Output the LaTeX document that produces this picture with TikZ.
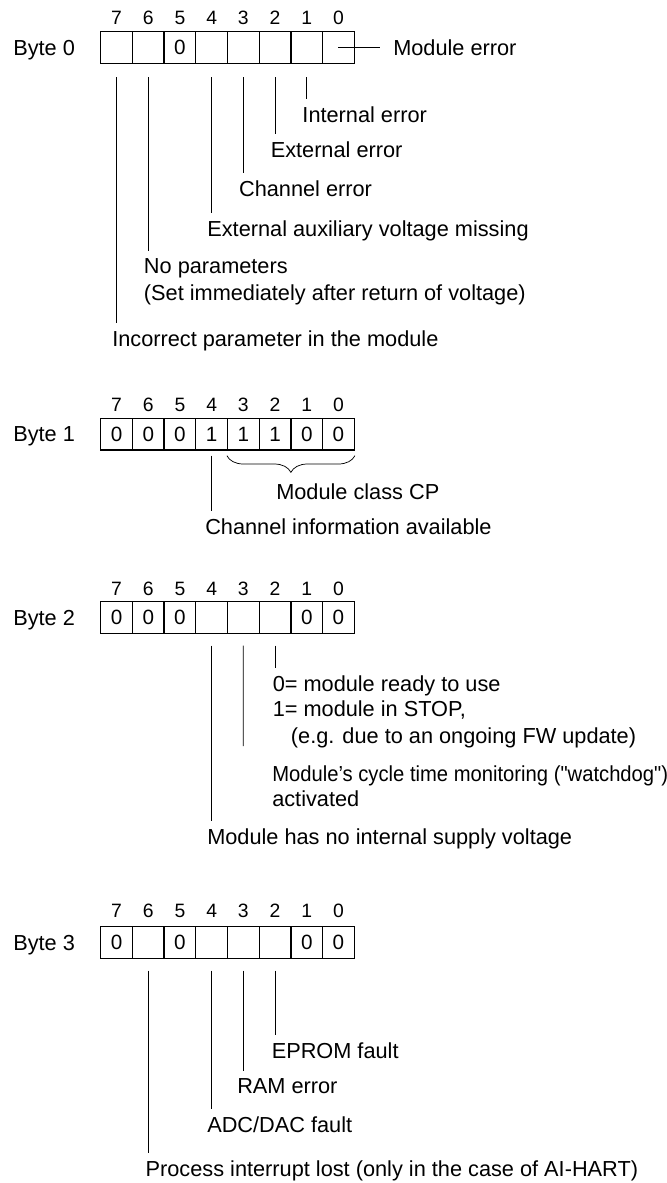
\documentclass[tikz,border=0pt]{standalone}
\usepackage{fontspec}
\setmainfont{Liberation Sans}[Ligatures=TeXOff]
\newfontfamily\narrowsans{Liberation Sans}[Ligatures=TeXOff,FakeStretch=0.93]
\usetikzlibrary{decorations.pathreplacing,calc}

\tikzset{
  bitcell/.style={draw,line width=0.9pt,minimum width=23.8pt,minimum height=23.8pt,inner sep=0pt,font=\fontsize{15.5}{18}\selectfont},
  bitnum/.style={anchor=base,inner sep=0pt,font=\fontsize{14.5}{17}\selectfont},
  bytelbl/.style={anchor=base west,inner sep=0pt,font=\fontsize{16.3}{20}\selectfont},
  lbl/.style={anchor=base west,inner xsep=0pt,inner ysep=5.6pt,font=\fontsize{16.3}{20}\selectfont},
  leader/.style={line width=0.55pt},
}

\begin{document}
\begin{tikzpicture}[x=0.75pt,y=-0.75pt]

        \useasboundingbox (0,0) rectangle (667,1183);

        % byte 0
        \node[bytelbl] (byte0) at (13,55.2) {Byte 0};
        \foreach \b/\v in {7/{},6/{},5/0,4/{},3/{},2/{},1/{},0/{}} {
          \node[bitcell] (c0-\b) at ({116.55+31.7*(7-\b)},47.5) {\v};
          \node[bitnum] (n0-\b) at ({116.55+31.7*(7-\b)},24.8) {\b};
        }

        \begin{scope}[every node/.style={lbl}]
          \node[anchor=west] (lmod) at (393,47.5) {Module error};
          \node (lint)    at (302.2,122.7) {Internal error};
          \node (lext)    at (270.5,157)   {External error};
          \node (lchan)   at (238.8,196)   {Channel error};
          \node (laux)    at (207.1,236.7) {External auxiliary voltage missing};
          \node (lnopar)  at (143.7,273.4) {No parameters};
          \node (lnopar2) at (143.7,300.4) {(Set immediately after return of voltage)};
          \node (linc)    at (112,346)     {Incorrect parameter in the module};
        \end{scope}

        \begin{scope}[leader]
          \draw (c0-0.center) -- ([xshift=-9.75pt]lmod.west);
          \draw ([yshift=-10pt]c0-1.south) -- (c0-1.south |- lint.north);
          \draw ([yshift=-10pt]c0-2.south) -- (c0-2.south |- lext.north);
          \draw ([yshift=-10pt]c0-3.south) -- (c0-3.south |- lchan.north);
          \draw ([yshift=-10pt]c0-4.south) -- (c0-4.south |- laux.north);
          \draw ([yshift=-10pt]c0-6.south) -- (c0-6.south |- lnopar.north);
          \draw ([yshift=-10pt]c0-7.south) -- (c0-7.south |- linc.north);
        \end{scope}

        % byte 1
        \node[bytelbl] (byte1) at (13,441.9) {Byte 1};
        \foreach \b/\v in {7/0,6/0,5/0,4/1,3/1,2/1,1/0,0/0} {
          \node[bitcell] (c1-\b) at ({116.55+31.7*(7-\b)},434.2) {\v};
          \node[bitnum] (n1-\b) at ({116.55+31.7*(7-\b)},411) {\b};
        }

        \begin{scope}[every node/.style={lbl}]
          \node (lclass)  at (276,499.4) {Module class CP};
          \node (lchinfo) at (205,534.4) {Channel information available};
        \end{scope}

        \begin{scope}[leader]
          \draw[decorate,decoration={brace,mirror,amplitude=12.5pt}]
            ([yshift=-3.75pt]c1-3.south west) -- ([yshift=-3.75pt]c1-0.south east);
          \draw ([yshift=-3.75pt]c1-4.south) -- (c1-4.south |- lchinfo.north);
        \end{scope}

        % byte 2
        \node[bytelbl] (byte2) at (13,625.2) {Byte 2};
        \foreach \b/\v in {7/0,6/0,5/0,4/{},3/{},2/{},1/0,0/0} {
          \node[bitcell] (c2-\b) at ({116.55+31.7*(7-\b)},617.5) {\v};
          \node[bitnum] (n2-\b) at ({116.55+31.7*(7-\b)},595) {\b};
        }

        \begin{scope}[every node/.style={lbl}]
          \node (lrdy)   at (272.5,691)   {0= module ready to use};
          \node (lstop)  at (272.5,716)   {1= module in STOP,};
          \node (lstop2) at (290.7,743.7) {(e.g. due to an ongoing FW update)};
          \node[font=\fontsize{16.3}{20}\narrowsans] (lwd) at (272,781.7) {Module’s cycle time monitoring ("watchdog")};
          \node (lwd2)   at (272,806)     {activated};
          \node (lsup)   at (207,844.4)   {Module has no internal supply voltage};
        \end{scope}
        \coordinate (wdend) at (243.35,746);

        \begin{scope}[leader]
          \draw ([yshift=-8.8pt]c2-2.south) -- (c2-2.south |- lrdy.north);
          \draw ([yshift=-8.8pt]c2-3.south) -- (wdend);
          \draw ([yshift=-8.8pt]c2-4.south) -- (c2-4.south |- lsup.north);
        \end{scope}

        % byte 3
        \node[bytelbl] (byte3) at (13,950.2) {Byte 3};
        \foreach \b/\v in {7/0,6/{},5/0,4/{},3/{},2/{},1/0,0/0} {
          \node[bitcell] (c3-\b) at ({116.55+31.7*(7-\b)},942.5) {\v};
          \node[bitnum] (n3-\b) at ({116.55+31.7*(7-\b)},917.3) {\b};
        }

        \begin{scope}[every node/.style={lbl}]
          \node (leprom) at (271.5,1058.4) {EPROM fault};
          \node (lram)   at (237,1093.7)   {RAM error};
          \node (ladc)   at (207,1132.7)   {ADC/DAC fault};
          \node (lproc)  at (145.4,1176)   {Process interrupt lost (only in the case of AI-HART)};
        \end{scope}

        \begin{scope}[leader]
          \draw ([yshift=-8.8pt]c3-2.south) -- (c3-2.south |- leprom.north);
          \draw ([yshift=-8.8pt]c3-3.south) -- (c3-3.south |- lram.north);
          \draw ([yshift=-8.8pt]c3-4.south) -- (c3-4.south |- ladc.north);
          \draw ([yshift=-8.8pt]c3-6.south) -- (c3-6.south |- lproc.north);
        \end{scope}

      \end{tikzpicture}
\end{document}
